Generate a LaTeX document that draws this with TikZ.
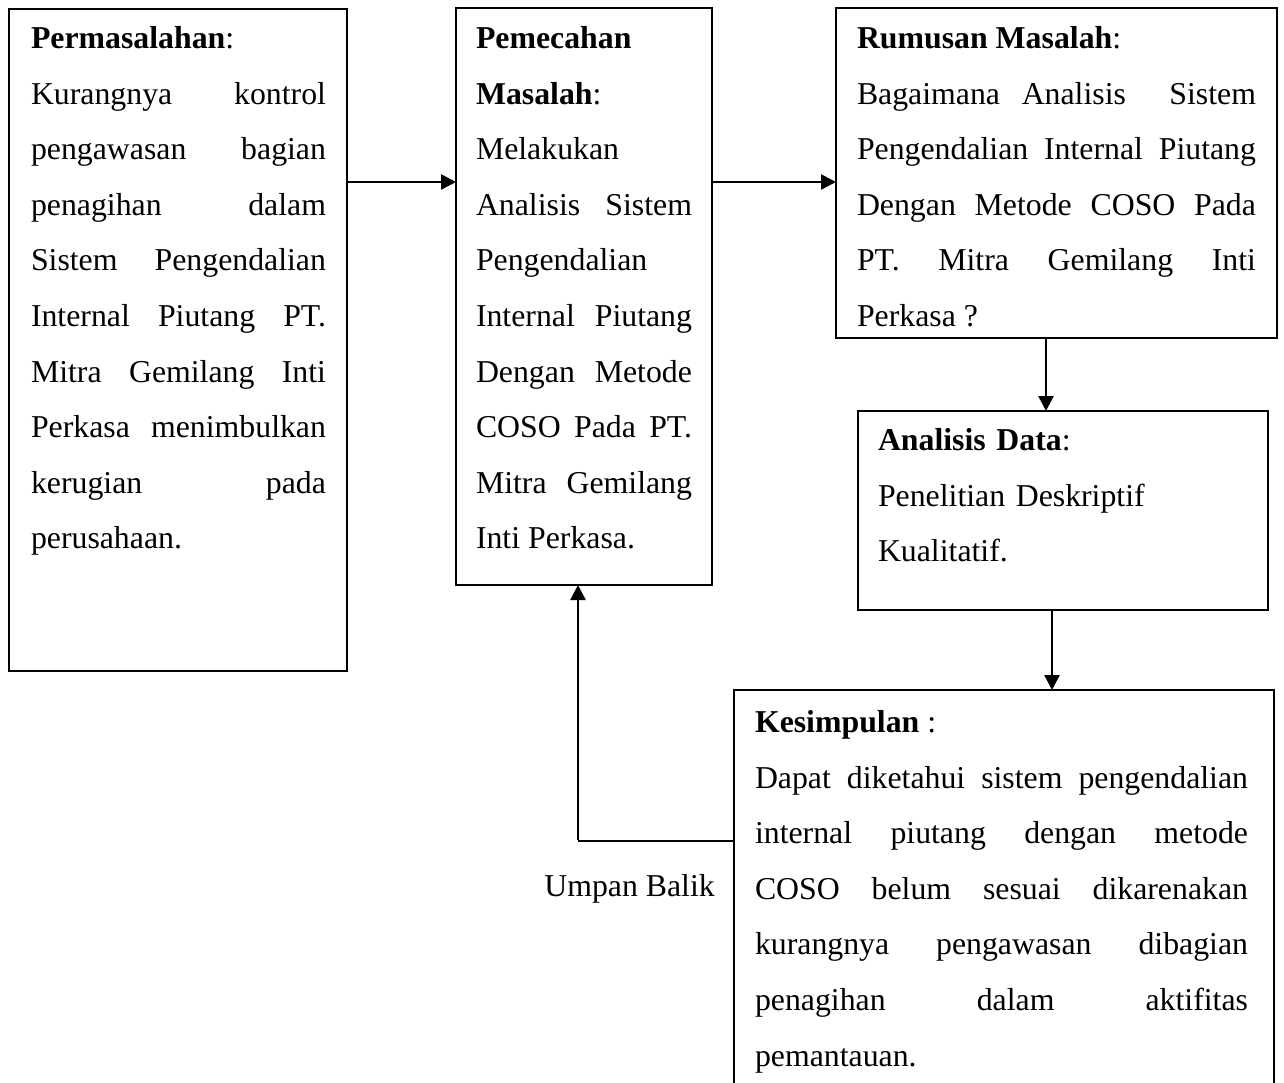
\documentclass[tikz,border=0pt]{standalone}
\usepackage{fontspec}
\setmainfont{Liberation Serif}
\usetikzlibrary{arrows.meta}
\tolerance=10000 \hyphenpenalty=10000 \pretolerance=-1 \hbadness=10000 \relax
\begin{document}
\begin{tikzpicture}[x=1pt,y=-1pt,
  box/.style={draw=black, line width=1.3pt, rectangle, inner sep=0pt, outer sep=0pt, anchor=north west},
  txt/.style={inner sep=0pt, outer sep=0pt, anchor=north west, align=justify,
    font=\fontsize{31.8}{55.6}\selectfont},
  arr/.style={line width=2.6pt, -{Triangle[length=15pt,width=15pt]}},
  fb/.style={line width=1.5pt}]
\useasboundingbox (0,0) rectangle (1284,1083);
% boxes
\node[box, minimum width=338pt, minimum height=662pt] (b1) at (9,9) {};
\node[box, minimum width=256pt, minimum height=577pt] (b2) at (456,8) {};
\node[box, minimum width=441pt, minimum height=330pt] (b3) at (836,8) {};
\node[box, minimum width=410pt, minimum height=199pt] (b4) at (858,411) {};
\node[box, minimum width=540pt, minimum height=440pt] (b5) at (734,690) {};
% texts
\node[txt, text width=295pt] (t1) at (31,9.5) {\strut\textbf{Permasalahan}:\\
Kurangnya kontrol\linebreak pengawasan bagian\linebreak penagihan dalam\linebreak Sistem Pengendalian\linebreak Internal Piutang PT.\linebreak Mitra Gemilang Inti\linebreak Perkasa menimbulkan\linebreak kerugian pada\linebreak perusahaan.};
\node[txt, text width=216pt] (t2) at (476,9.5) {\strut\textbf{Pemecahan}\\
\textbf{Masalah}:\\
Melakukan\linebreak Analisis Sistem\linebreak Pengendalian\linebreak Internal Piutang\linebreak Dengan Metode\linebreak COSO Pada PT.\linebreak Mitra Gemilang\linebreak Inti Perkasa.};
\node[txt, text width=399pt] (t3) at (857,9.5) {\strut\textbf{Rumusan Masalah}:\\
Bagaimana Analisis\ \ Sistem\linebreak Pengendalian Internal Piutang\linebreak Dengan Metode COSO Pada\linebreak PT. Mitra Gemilang Inti\linebreak Perkasa ?};
\node[txt, text width=370pt, align=left] (t4) at (878,411.5) {\strut\textbf{Analisis Data}:\\
Penelitian Deskriptif\\
Kualitatif.};
\node[txt, text width=493pt] (t5) at (755,693.5) {\strut\textbf{Kesimpulan} :\\
Dapat diketahui sistem pengendalian\linebreak internal piutang dengan metode\linebreak COSO belum sesuai dikarenakan\linebreak kurangnya pengawasan dibagian\linebreak penagihan dalam aktifitas\linebreak pemantauan.};
\node[inner sep=0pt, anchor=base east, font=\fontsize{31.8}{55.6}\selectfont] (lbl) at (715,896) {Umpan Balik};
% connectors
\draw[arr] (b1.east |- 0,182) -- (b2.west |- 0,182);
\draw[arr] (b2.east |- 0,182) -- (b3.west |- 0,182);
\draw[arr] (b3.south -| 1046,0) -- (b4.north -| 1046,0);
\draw[arr] (b4.south -| 1052,0) -- (b5.north -| 1052,0);
\coordinate (c1) at (578,841);
\draw[fb] (b5.west |- c1) -- (c1);
\draw[arr] ([yshift=0.75pt]c1) -- (b2.south -| c1);
\end{tikzpicture}
\end{document}
